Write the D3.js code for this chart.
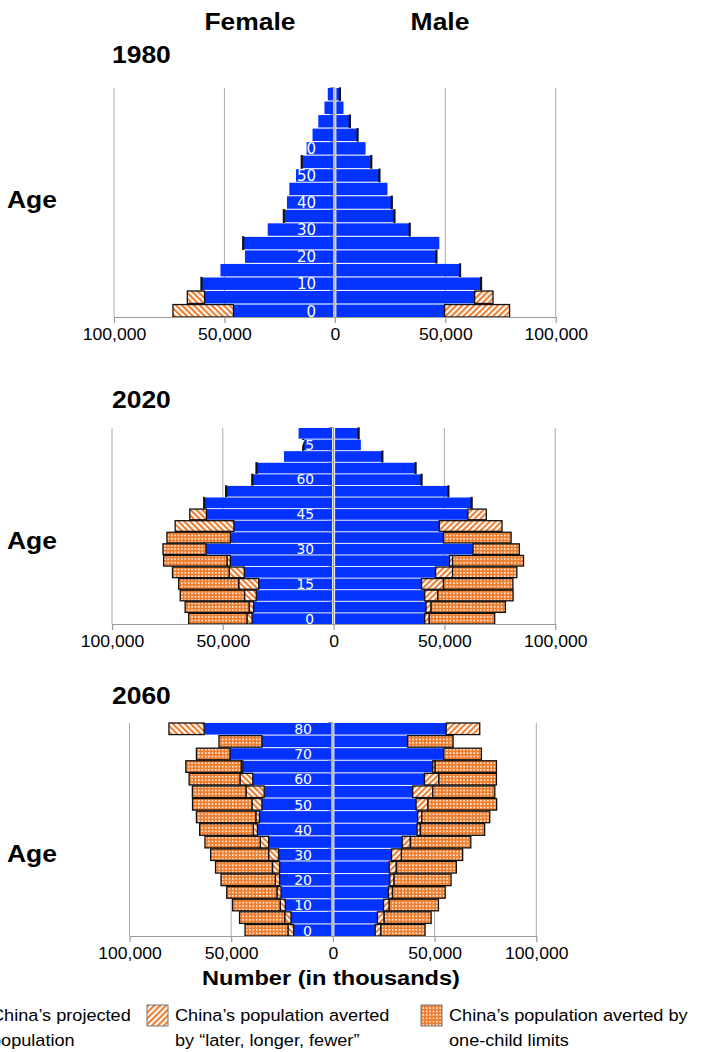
<!DOCTYPE html>
<html><head><meta charset="utf-8">
<script src="https://cdn.jsdelivr.net/npm/d3@7"></script>
<style>body{margin:0;background:#fff}svg{display:block}</style>
</head><body><svg id="c" width="713" height="1052"></svg>
<script>
// ---------- DATA (thousands) ----------
const ages = [0,5,10,15,20,25,30,35,40,45,50,55,60,65,70,75,80];
const xTicks = [-100000,-50000,0,50000,100000];
const labels1980 = [0,10,20,30,40,50,60,70,80];
const labels2020 = [0,15,30,45,60,75];
const labels2060 = [0,10,20,30,40,50,60,70,80];

const female1980Projected = [45900,59000,60200,51800,40700,41300,30400,22900,21700,20600,17600,14800,12800,10100,7500,4700,3200];
const female1980Later     = [27400,7800,400,0,0,400,0,400,0,0,0,400,0,0,0,0,0];
const female1980OneChild  = [0,0,0,0,0,0,0,0,0,0,0,0,0,0,0,0,0];
const male1980Projected   = [49700,63300,66000,56500,45800,47300,33700,26800,25600,23800,20000,16300,13900,10100,6600,3900,2100];
const male1980Later       = [29400,8300,400,400,400,0,400,400,400,0,400,400,0,400,400,0,400];
const male1980OneChild    = [0,0,0,0,0,0,0,0,0,0,0,0,0,0,0,0,0];

const female2020Projected = [36800,36100,34900,33800,40300,46600,57600,46600,45000,57400,58200,48300,36500,34600,22400,13500,15800];
const female2020Later     = [2300,2000,5300,9000,6800,1500,0,0,26500,7500,400,400,400,400,0,400,0];
const female2020OneChild  = [26300,28900,29000,27100,25600,28600,19400,28600,0,0,0,0,0,0,0,0,0];
const male2020Projected   = [41100,41700,41100,39700,46000,52300,62900,49600,47700,60600,62100,51600,39500,36800,21800,12300,11100];
const male2020Later       = [2100,2300,5900,9900,7700,1400,0,0,28300,8300,400,400,400,400,400,0,400];
const male2020OneChild    = [29500,33500,34000,31300,29000,32000,20900,30500,0,0,0,0,0,0,0,0,0];

const female2060Projected = [19300,20600,23400,25500,26200,26200,26700,31600,37100,36100,34900,33800,39400,44300,50600,34900,63300];
const female2060Later     = [2800,3100,2500,2000,2100,3500,4900,4100,2000,1800,4900,8900,6300,800,0,0,17300];
const female2060OneChild  = [21100,22200,23400,24700,26700,28000,28500,27200,26400,29200,29200,26400,25000,27200,16500,21100,0];
const male2060Projected   = [20800,21900,24900,27300,28000,27700,28800,34100,41400,41700,40900,39200,45000,49100,54500,36700,55700];
const male2060Later       = [2800,3300,2800,2000,2100,3500,4900,4000,1600,2000,5800,9900,7100,1200,0,0,16500];
const male2060OneChild    = [21700,23100,24200,25900,28000,29500,30100,29700,31600,33400,33800,30500,28300,30100,18500,22400,0];

const legendLabels = [
  ["China\u2019s projected","population"],
  ["China\u2019s population averted","by \u201Clater, longer, fewer\u201D"],
  ["China\u2019s population averted by","one-child limits"]
];

// ---------- STYLE / LAYOUT ----------
const BLUE = "#0433FF", ORANGE = "#EE7D2E";
const SANS = "'Liberation Sans', Arial, Helvetica, sans-serif";
const SX = 1.12; // horizontal stretch of text

const panels = [
  {year:"1980", top:88, bottom:317, x0:114, x1:555.7, labels:labels1980, labelX:316, labelSize:15,
   fp:female1980Projected, fl:female1980Later, fo:female1980OneChild,
   mp:male1980Projected, ml:male1980Later, mo:male1980OneChild, yearY:63, ageY:208},
  {year:"2020", top:428, bottom:624, x0:112, x1:555.2, labels:labels2020, labelX:314, labelSize:13.8,
   fp:female2020Projected, fl:female2020Later, fo:female2020OneChild,
   mp:male2020Projected, ml:male2020Later, mo:male2020OneChild, yearY:408, ageY:549},
  {year:"2060", top:723, bottom:936, x0:129.5, x1:536.3, labels:labels2060, labelX:312, labelSize:14,
   fp:female2060Projected, fl:female2060Later, fo:female2060OneChild,
   mp:male2060Projected, ml:male2060Later, mo:male2060OneChild, yearY:704, ageY:862}
];

const svg = d3.select("#c");
const defs = svg.append("defs");
function hatch(id, angle){
  const p = defs.append("pattern").attr("id", id).attr("patternUnits","userSpaceOnUse")
    .attr("width", 4.2).attr("height", 4.2).attr("patternTransform", `rotate(${angle})`);
  p.append("rect").attr("width",4.2).attr("height",4.2).attr("fill","#fff");
  p.append("rect").attr("width",2.1).attr("height",4.2).attr("fill",ORANGE);
}
hatch("hatchR", 45);
hatch("hatchL", -45);
const dp = defs.append("pattern").attr("id","dots").attr("patternUnits","userSpaceOnUse")
  .attr("width",3.4).attr("height",3.4);
dp.append("rect").attr("width",3.4).attr("height",3.4).attr("fill",ORANGE);
dp.append("rect").attr("x",0.9).attr("y",0.9).attr("width",1.5).attr("height",1.5).attr("fill","#fff");

function stext(g, x, y, str, size, weight, anchor, sx){
  return g.append("text")
    .attr("transform", `translate(${x},${y}) scale(${sx||SX},1)`)
    .attr("font-family", SANS).attr("font-size", size).attr("font-weight", weight||"normal")
    .attr("text-anchor", anchor||"start").attr("fill","#000").text(str);
}

// headers
stext(svg, 250, 30, "Female", 23, "bold", "middle", 1.15);
stext(svg, 440, 30, "Male", 23, "bold", "middle", 1.15);

panels.forEach(P => {
  const g = svg.append("g");
  const x = d3.scaleLinear().domain([-100000, 100000]).range([P.x0, P.x1]);
  const y = d3.scaleBand().domain(ages).range([P.bottom, P.top]).paddingInner(0.08).paddingOuter(0);
  const cx = x(0);

  stext(g, 112, P.yearY, P.year, 23, "bold", "start", 1.15);
  stext(g, 7, P.ageY, "Age", 23, "bold", "start", 1.15);

  // gridlines (non-center)
  g.selectAll("line.grid").data(xTicks.filter(v => v !== 0)).join("line")
    .attr("x1", d => x(d)).attr("x2", d => x(d))
    .attr("y1", P.top).attr("y2", P.bottom)
    .attr("stroke", "#aaa").attr("stroke-width", 1);

  // segments
  const segs = [];
  ages.forEach((a, i) => {
    [[-1, P.fp[i], P.fl[i], P.fo[i]], [1, P.mp[i], P.ml[i], P.mo[i]]].forEach(([s, p, l, o]) => {
      segs.push({age:a, s, from:0, to:p, kind:"proj"});
      if (l > 0) segs.push({age:a, s, from:p, to:p + l, kind:"later"});
      if (o > 0) segs.push({age:a, s, from:p + l, to:p + l + o, kind:"one"});
    });
  });
  g.selectAll("rect.seg").data(segs).join("rect")
    .attr("x", d => Math.min(x(d.s * d.from), x(d.s * d.to)))
    .attr("width", d => Math.abs(x(d.s * d.to) - x(d.s * d.from)))
    .attr("y", d => y(d.age))
    .attr("height", y.bandwidth())
    .attr("fill", d => d.kind === "proj" ? BLUE : d.kind === "one" ? "url(#dots)" : (d.s < 0 ? "url(#hatchL)" : "url(#hatchR)"))
    .attr("stroke", d => d.kind === "proj" ? "none" : "#111")
    .attr("stroke-width", 1.3);

  // center axis
  g.append("line").attr("x1", cx).attr("x2", cx).attr("y1", P.top).attr("y2", P.bottom)
    .attr("stroke", "#fff").attr("stroke-width", 3);
  g.append("line").attr("x1", cx).attr("x2", cx).attr("y1", P.top).attr("y2", P.bottom)
    .attr("stroke", "#9a9a9a").attr("stroke-width", 1.2);
  g.selectAll("line.ytick").data(ages).join("line")
    .attr("x1", cx - 5).attr("x2", cx)
    .attr("y1", d => y(d) - y.step() * y.paddingInner() / 2)
    .attr("y2", d => y(d) - y.step() * y.paddingInner() / 2)
    .attr("stroke", "#9a9a9a").attr("stroke-width", 1);

  // age labels
  g.selectAll("text.age").data(P.labels).join("text")
    .attr("x", P.labelX).attr("y", d => y(d) + y.bandwidth() - 0.5)
    .attr("text-anchor", "end").attr("fill", "#fff")
    .attr("font-family", "'DejaVu Sans', Verdana, sans-serif").attr("font-size", P.labelSize)
    .text(d => d);

  // bottom axis
  const ax = g.append("g").attr("transform", `translate(0,${P.bottom})`)
    .call(d3.axisBottom(x).tickValues(xTicks).tickSize(6).tickSizeOuter(0)
      .tickFormat(d => d3.format(",")(Math.abs(d))));
  ax.select(".domain").attr("stroke", "#9a9a9a").attr("stroke-width", 1.2);
  ax.selectAll(".tick line").attr("stroke", "#9a9a9a").attr("stroke-width", 1.2);
  ax.selectAll(".tick text").attr("y", 23).attr("dy", null)
    .attr("transform", `scale(${1.1},1)`)
    .attr("font-family", SANS).attr("font-size", 16).attr("fill", "#000");
});

// x title
stext(svg, 331, 985, "Number (in thousands)", 20.5, "bold", "middle", 1.15);

// legend
const legendItems = [
  {fill: BLUE, x: -37},
  {fill: "url(#hatchR)", x: 147},
  {fill: "url(#dots)", x: 421}
];
legendItems.forEach((it, i) => {
  const lg = svg.append("g");
  lg.append("rect").attr("x", it.x).attr("y", 1005).attr("width", 21).attr("height", 21)
    .attr("fill", it.fill).attr("stroke", "#777").attr("stroke-width", 1);
  stext(lg, it.x + 28, 1021, legendLabels[i][0], 16.5, "normal", "start", 1.1);
  stext(lg, it.x + 28, 1046, legendLabels[i][1], 16.5, "normal", "start", 1.1);
});
</script></body></html>
